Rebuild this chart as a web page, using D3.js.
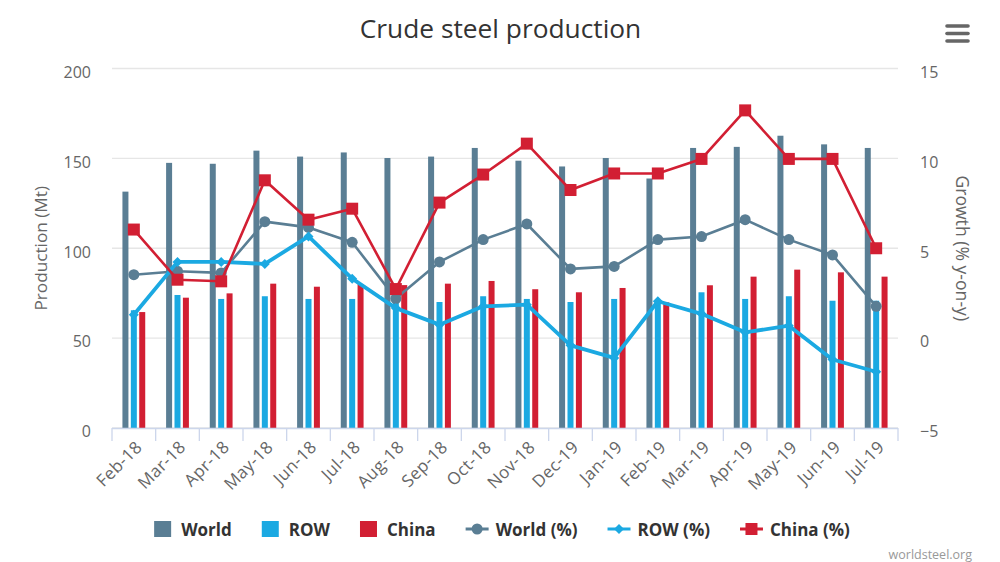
<!DOCTYPE html>
<html><head><meta charset="utf-8">
<script src="https://cdn.jsdelivr.net/npm/d3@7/dist/d3.min.js"></script>
<style>
html,body{margin:0;padding:0;background:#fff;}
svg{display:block;font-family:"Open Sans",sans-serif;}
</style></head>
<body>
<svg id="chart" width="1000" height="562"></svg>
<script>
const categories = ["Feb-18","Mar-18","Apr-18","May-18","Jun-18","Jul-18","Aug-18","Sep-18","Oct-18","Nov-18","Dec-19","Jan-19","Feb-19","Mar-19","Apr-19","May-19","Jun-19","Jul-19"];
const worldProd = [131.5,147.5,147.0,154.3,151.0,153.3,150.2,151.0,155.8,148.7,145.5,150.2,138.8,155.8,156.4,162.6,157.8,155.8];
const rowProd   = [65.5,74.0,71.8,73.3,71.8,71.8,70.0,70.1,73.3,71.8,70.1,71.8,69.5,75.5,71.8,73.3,70.8,70.8];
const chinaProd = [64.5,72.5,74.9,80.3,78.6,80.0,79.5,80.3,81.8,77.2,75.5,77.9,69.9,79.4,84.2,88.1,86.6,84.2];
const worldGrowth = [3.53,3.72,3.63,6.48,6.16,5.33,2.20,4.24,5.48,6.35,3.85,3.99,5.48,5.65,6.59,5.48,4.63,1.77];
const rowGrowth   = [1.30,4.24,4.24,4.13,5.66,3.31,1.67,0.75,1.77,1.86,-0.40,-1.10,2.05,1.35,0.32,0.69,-1.19,-1.87];
const chinaGrowth = [6.04,3.25,3.16,8.78,6.59,7.20,2.73,7.54,9.10,10.82,8.24,9.16,9.16,9.97,12.67,9.97,9.97,5.00];
const leftTicks = [0,50,100,150,200];
const rightTicks = [-5,0,5,10,15];
const seriesNames = ["World","ROW","China"];
const colors = {World:"#5a7e94", ROW:"#1ba9e2", China:"#d21f33"};

const svg = d3.select("#chart");
const L = 112, R = 898, T = 68.5, B = 428;

const x = d3.scaleBand().domain(categories).range([L, R]).padding(0);
const x1 = d3.scaleBand().domain(seriesNames).range([-11.4, 11.4]).paddingInner(0.2857).paddingOuter(0);
const yL = d3.scaleLinear().domain([0,200]).range([B, T]);
const yR = d3.scaleLinear().domain([-5,15]).range([B, T]);

// gridlines
svg.append("g").selectAll("line").data(leftTicks).join("line")
  .attr("x1", L).attr("x2", R).attr("y1", d=>yL(d)).attr("y2", d=>yL(d))
  .attr("stroke", "#e6e6e6").attr("stroke-width", 1.3);

// title
svg.append("text").attr("x", 500.5).attr("y", 38).attr("text-anchor","middle")
  .attr("font-size", 26.3).attr("fill", "#333").text("Crude steel production");

// hamburger
const hb = svg.append("g").attr("stroke","#666").attr("stroke-width",3.6).attr("stroke-linecap","round");
[26,33.5,41].forEach(yy=>hb.append("line").attr("x1",947).attr("x2",968).attr("y1",yy).attr("y2",yy));

// left axis
const gL = svg.append("g").attr("transform", `translate(${L},0)`)
  .call(d3.axisLeft(yL).tickValues(leftTicks).tickSize(0).tickPadding(21).tickFormat(d3.format("d")));
gL.select(".domain").remove();
gL.selectAll("text").attr("font-size", 16).attr("fill", "#666").attr("font-family","Open Sans").attr("dy","0.55em");

// right axis
const gR = svg.append("g").attr("transform", `translate(${R},0)`)
  .call(d3.axisRight(yR).tickValues(rightTicks).tickSize(0).tickPadding(22).tickFormat(d3.format("d")));
gR.select(".domain").remove();
gR.selectAll("text").attr("font-size", 16).attr("fill", "#666").attr("font-family","Open Sans").attr("dy","0.55em");

// axis titles
svg.append("text").attr("transform", `translate(47,${(T+B)/2}) rotate(-90)`).attr("text-anchor","middle")
  .attr("font-size", 17.2).attr("fill","#666").text("Production (Mt)");
svg.append("text").attr("transform", `translate(956,${(T+B)/2}) rotate(90)`).attr("text-anchor","middle")
  .attr("font-size", 17.6).attr("fill","#666").text("Growth (% y-on-y)");

// bars
const prod = {World: worldProd, ROW: rowProd, China: chinaProd};
const barG = svg.append("g");
seriesNames.forEach(s=>{
  barG.append("g").selectAll("rect").data(categories.map((c,i)=>({c, v: prod[s][i]}))).join("rect")
    .attr("x", d=>x(d.c)+x.bandwidth()/2 + x1(s))
    .attr("width", x1.bandwidth())
    .attr("y", d=>yL(d.v))
    .attr("height", d=>B - yL(d.v))
    .attr("fill", colors[s]);
});

// x axis
svg.append("line").attr("x1", L).attr("x2", R).attr("y1", B+0.5).attr("y2", B+0.5)
  .attr("stroke","#ccd6eb").attr("stroke-width",1.3);
const tickPos = categories.map(c=>x(c)).concat([R]);
svg.append("g").selectAll("line").data(tickPos).join("line")
  .attr("x1", d=>d).attr("x2", d=>d).attr("y1", B).attr("y2", B+13)
  .attr("stroke","#ccd6eb").attr("stroke-width",1.3);
const gB = svg.append("g").attr("transform", `translate(0,${B})`)
  .call(d3.axisBottom(x).tickSize(0).tickPadding(0));
gB.select(".domain").remove();
gB.selectAll(".tick text")
  .attr("font-size", 17).attr("fill","#666").attr("font-family","Open Sans")
  .attr("letter-spacing", 0.4)
  .attr("text-anchor","end").attr("y", 0).attr("dy", "0.35em")
  .attr("transform","translate(5,16) rotate(-45)");

// lines
const growth = {World: worldGrowth, ROW: rowGrowth, China: chinaGrowth};
const lineWidth = {World: 2.6, ROW: 3.8, China: 2.6};
const lineGen = d3.line().x(d=>x(d.c)+x.bandwidth()/2).y(d=>yR(d.v));
const lineG = svg.append("g");
function drawMarker(g, s, cx, cy){
  if (s==="World") g.append("circle").attr("cx",cx).attr("cy",cy).attr("r",5.5).attr("fill",colors[s]);
  else if (s==="ROW") g.append("path").attr("d",`M${cx},${cy-5}L${cx+5},${cy}L${cx},${cy+5}L${cx-5},${cy}Z`).attr("fill",colors[s]);
  else g.append("rect").attr("x",cx-6).attr("y",cy-6).attr("width",12).attr("height",12).attr("fill",colors[s]);
}
seriesNames.forEach(s=>{
  const data = categories.map((c,i)=>({c, v: growth[s][i]}));
  const g = lineG.append("g");
  g.append("path").attr("d", lineGen(data)).attr("fill","none").attr("stroke",colors[s])
    .attr("stroke-width", lineWidth[s]).attr("stroke-linejoin","round").attr("stroke-linecap","round");
  data.forEach(d=>drawMarker(g, s, x(d.c)+x.bandwidth()/2, yR(d.v)));
});

// legend
const legendItems = [
  {name:"World", s:"World", type:"bar"},
  {name:"ROW", s:"ROW", type:"bar"},
  {name:"China", s:"China", type:"bar"},
  {name:"World (%)", s:"World", type:"line"},
  {name:"ROW (%)", s:"ROW", type:"line"},
  {name:"China (%)", s:"China", type:"line"}
];
const lg = svg.append("g");
const ly = 529;
let cursor = 0;
const placed = [];
legendItems.forEach((it,i)=>{
  const g = lg.append("g");
  const symW = it.type==="bar" ? 17 : 23;
  const gap = it.type==="bar" ? 10 : 7;
  if (it.type==="bar") {
    g.append("rect").attr("x",0).attr("y",ly-8).attr("width",17).attr("height",16).attr("fill",colors[it.s]);
  } else {
    g.append("line").attr("x1",0).attr("x2",23).attr("y1",ly).attr("y2",ly).attr("stroke",colors[it.s]).attr("stroke-width",3);
    drawMarker(g, it.s, 11.5, ly);
  }
  const t = g.append("text").attr("x", symW+gap).attr("y", ly+6.5).attr("font-size",17).attr("font-weight","bold")
    .attr("fill","#333").text(it.name);
  const w = symW + gap + t.node().getComputedTextLength();
  placed.push({g, off: cursor});
  cursor += w + 30;
});
const totalW = cursor - 30;
const startX = 502 - totalW/2;
placed.forEach(p=>p.g.attr("transform", `translate(${startX + p.off},0)`));

// credits
svg.append("text").attr("x", 972).attr("y", 559).attr("text-anchor","end").attr("font-size",12.5)
  .attr("fill","#999").text("worldsteel.org");
</script>
</body></html>
